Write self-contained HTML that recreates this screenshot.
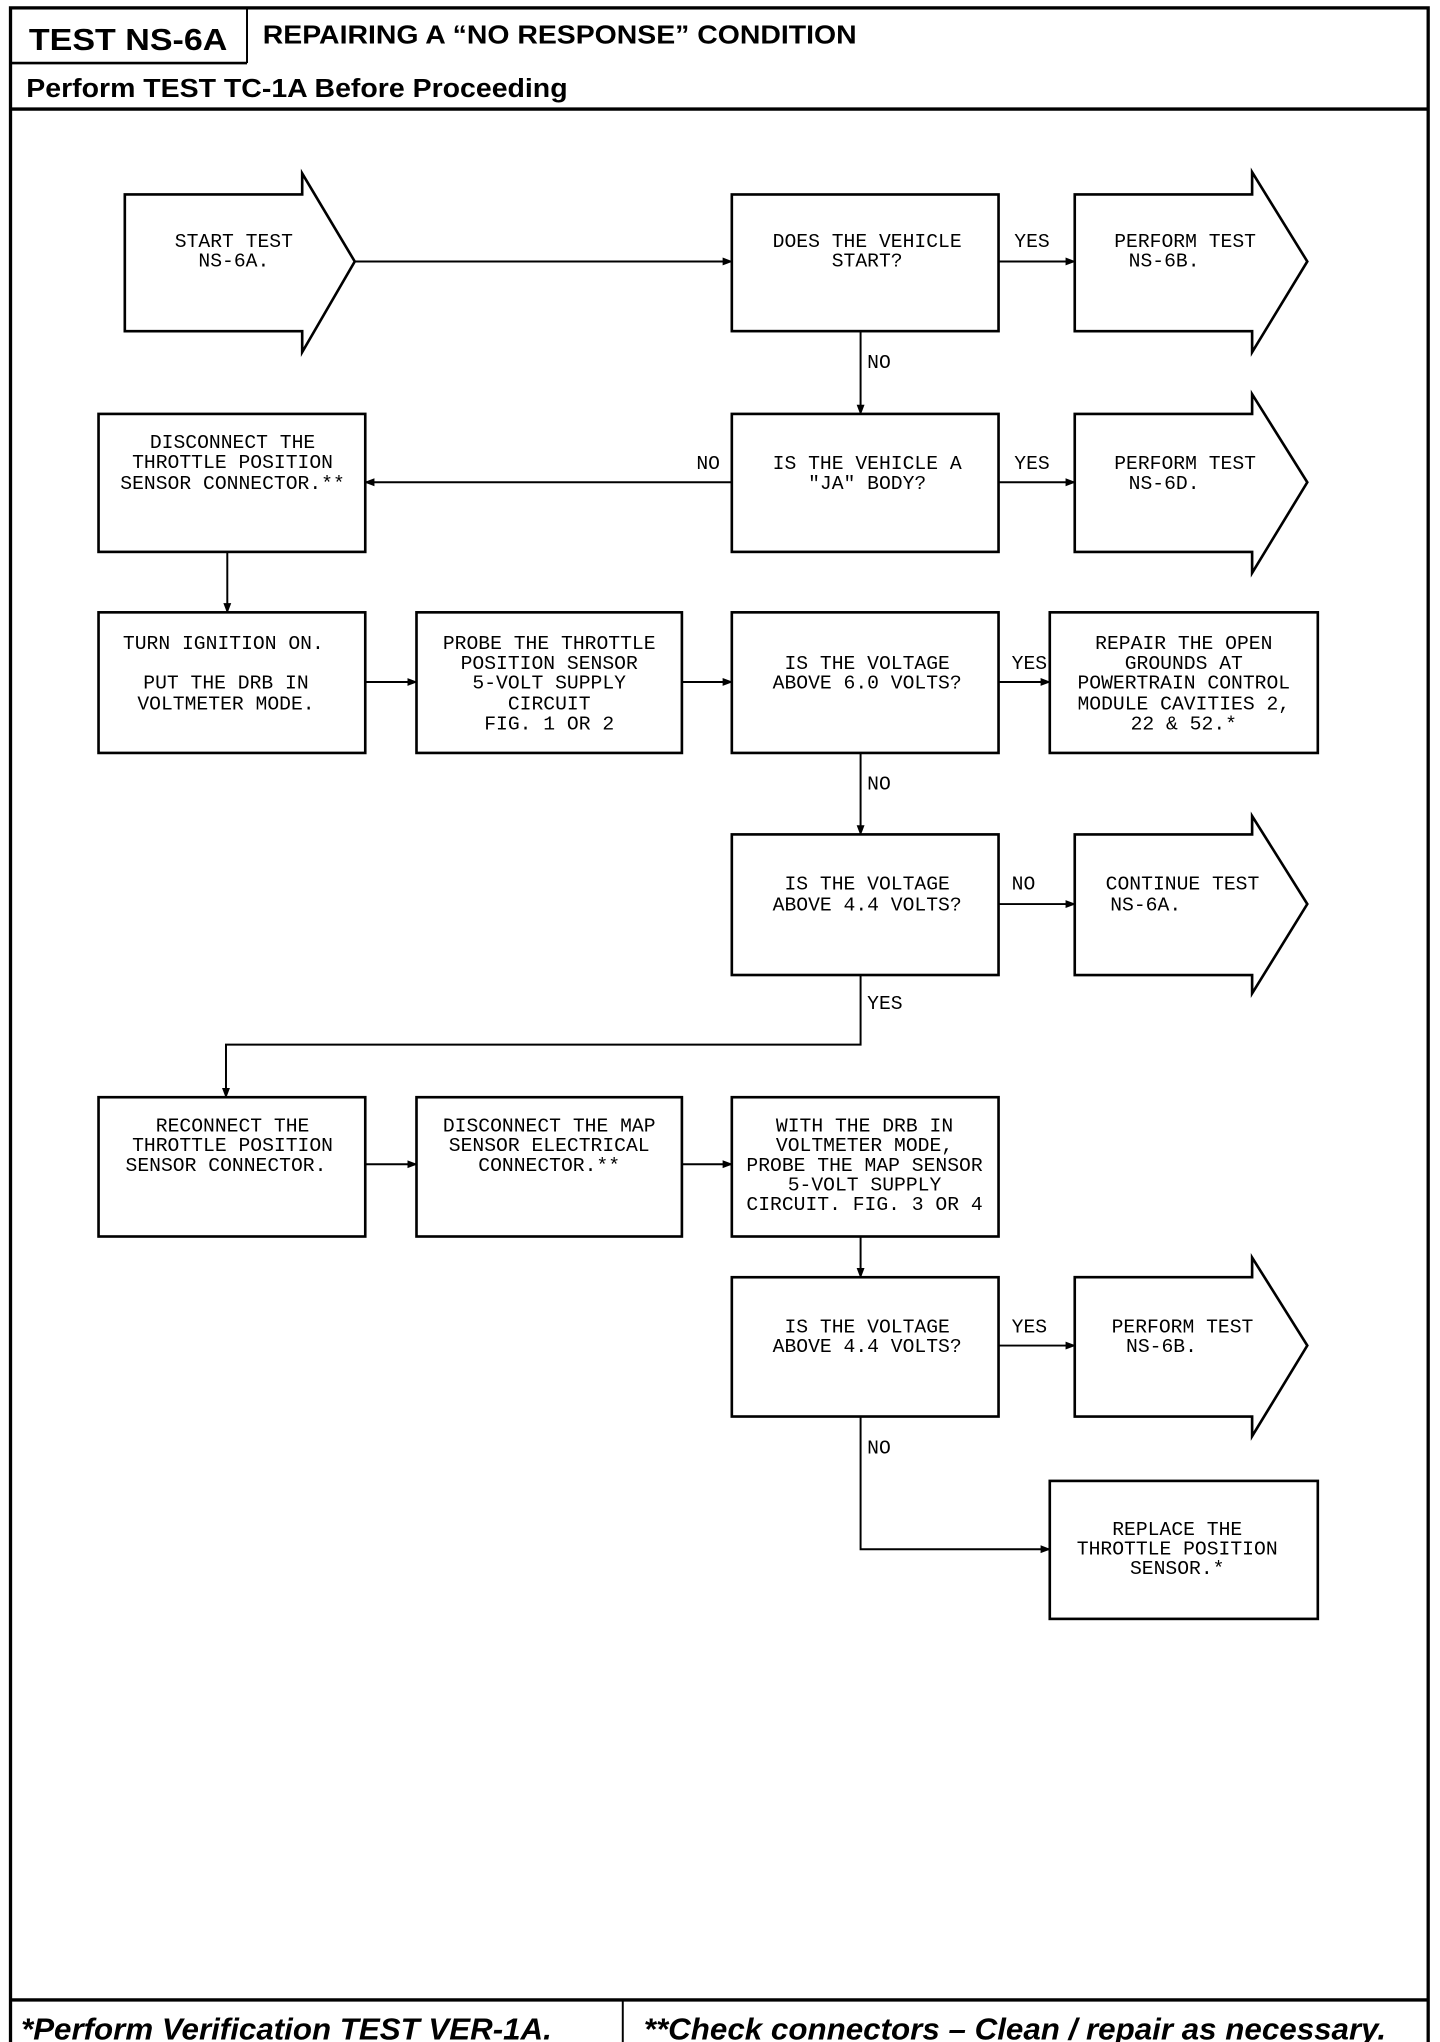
<!DOCTYPE html>
<html><head><meta charset="utf-8"><style>
html,body{margin:0;padding:0;background:#fff;}
svg{display:block;}
.t{font-family:"Liberation Mono",monospace;font-size:15px;fill:#000;text-anchor:middle;}
.l{font-family:"Liberation Mono",monospace;font-size:15px;fill:#000;}
.h{font-family:"Liberation Sans",sans-serif;font-weight:bold;fill:#000;}
</style></head><body>
<svg width="1440" height="2042" viewBox="0 0 1096 1554" preserveAspectRatio="none" xmlns="http://www.w3.org/2000/svg">
<defs><marker id="a" markerWidth="8" markerHeight="8" refX="7" refY="4" orient="auto" markerUnits="userSpaceOnUse"><path d="M0,1 L8,4 L0,7 Z" fill="#000"/></marker></defs>
<g fill="none" stroke="#000">
<rect x="8" y="6" width="1079" height="1556" stroke-width="2.5"/>
<line x1="8" y1="48" x2="188" y2="48" stroke-width="2"/>
<line x1="188" y1="6" x2="188" y2="48" stroke-width="1.5"/>
<line x1="8" y1="83" x2="1087" y2="83" stroke-width="2.5"/>
<line x1="8" y1="1522" x2="1087" y2="1522" stroke-width="2.5"/>
<line x1="474" y1="1522" x2="474" y2="1562" stroke-width="1.5"/>
</g>
<text class="h" x="22" y="38" font-size="23" textLength="151" lengthAdjust="spacingAndGlyphs">TEST NS-6A</text>
<text class="h" x="200" y="33" font-size="20" textLength="452" lengthAdjust="spacingAndGlyphs">REPAIRING A “NO RESPONSE” CONDITION</text>
<text class="h" x="20" y="74" font-size="20" textLength="412" lengthAdjust="spacingAndGlyphs">Perform TEST TC-1A Before Proceeding</text>
<text class="h" x="16" y="1552" font-size="23" font-style="italic" textLength="404" lengthAdjust="spacingAndGlyphs">*Perform Verification TEST VER-1A.</text>
<text class="h" x="490" y="1552" font-size="23" font-style="italic" textLength="565" lengthAdjust="spacingAndGlyphs">**Check connectors – Clean / repair as necessary.</text>

<g fill="#fff" stroke="#000" stroke-width="2">
<path d="M95,148 H230 V132 L270,199 L230,268 V252 H95 Z"/>
<path d="M818,148 H953 V131 L995,199 L953,268 V252 H818 Z"/>
<path d="M818,315 H953 V300 L995,367 L953,436 V420 H818 Z"/>
<path d="M818,635 H953 V621 L995,688 L953,756 V742 H818 Z"/>
<path d="M818,972 H953 V957 L995,1024 L953,1093 V1078 H818 Z"/>
<rect x="557" y="148" width="203" height="104"/>
<rect x="557" y="315" width="203" height="105"/>
<rect x="75" y="315" width="203" height="105"/>
<rect x="75" y="466" width="203" height="107"/>
<rect x="317" y="466" width="202" height="107"/>
<rect x="557" y="466" width="203" height="107"/>
<rect x="799" y="466" width="204" height="107"/>
<rect x="557" y="635" width="203" height="107"/>
<rect x="75" y="835" width="203" height="106"/>
<rect x="317" y="835" width="202" height="106"/>
<rect x="557" y="835" width="203" height="106"/>
<rect x="557" y="972" width="203" height="106"/>
<rect x="799" y="1127" width="204" height="105"/>
</g>
<g fill="none" stroke="#000" stroke-width="1.5" marker-end="url(#a)">
<line x1="270" y1="199" x2="557" y2="199"/>
<line x1="760" y1="199" x2="818" y2="199"/>
<line x1="655" y1="252" x2="655" y2="315"/>
<line x1="760" y1="367" x2="818" y2="367"/>
<line x1="557" y1="367" x2="278" y2="367"/>
<line x1="173" y1="420" x2="173" y2="466"/>
<line x1="278" y1="519" x2="317" y2="519"/>
<line x1="519" y1="519" x2="557" y2="519"/>
<line x1="760" y1="519" x2="799" y2="519"/>
<line x1="655" y1="573" x2="655" y2="635"/>
<line x1="760" y1="688" x2="818" y2="688"/>
<polyline points="655,742 655,795 172,795 172,835"/>
<line x1="278" y1="886" x2="317" y2="886"/>
<line x1="519" y1="886" x2="557" y2="886"/>
<line x1="655" y1="941" x2="655" y2="972"/>
<line x1="760" y1="1024" x2="818" y2="1024"/>
<polyline points="655,1078 655,1179 799,1179"/>
</g>
<g class="t">
<text x="178" y="188">START TEST</text><text x="178" y="203">NS-6A.</text>
<text x="660" y="188">DOES THE VEHICLE</text><text x="660" y="203">START?</text>
<text x="902" y="188">PERFORM TEST</text><text x="886" y="203">NS-6B.</text>
<text x="660" y="357">IS THE VEHICLE A</text><text x="660" y="372">"JA" BODY?</text>
<text x="902" y="357">PERFORM TEST</text><text x="886" y="372">NS-6D.</text>
<text x="177" y="341">DISCONNECT THE</text><text x="177" y="356">THROTTLE POSITION</text><text x="177" y="372">SENSOR CONNECTOR.**</text>
<text x="170" y="494">TURN IGNITION ON.</text><text x="172" y="524">PUT THE DRB IN</text><text x="172" y="540">VOLTMETER MODE.</text>
<text x="418" y="494">PROBE THE THROTTLE</text><text x="418" y="509">POSITION SENSOR</text><text x="418" y="524">5-VOLT SUPPLY</text><text x="418" y="540">CIRCUIT</text><text x="418" y="555">FIG. 1 OR 2</text>
<text x="660" y="509">IS THE VOLTAGE</text><text x="660" y="524">ABOVE 6.0 VOLTS?</text>
<text x="901" y="494">REPAIR THE OPEN</text><text x="901" y="509">GROUNDS AT</text><text x="901" y="524">POWERTRAIN CONTROL</text><text x="901" y="540">MODULE CAVITIES 2,</text><text x="901" y="555">22 &amp; 52.*</text>
<text x="660" y="677">IS THE VOLTAGE</text><text x="660" y="693">ABOVE 4.4 VOLTS?</text>
<text x="900" y="677">CONTINUE TEST</text><text x="872" y="693">NS-6A.</text>
<text x="177" y="861">RECONNECT THE</text><text x="177" y="876">THROTTLE POSITION</text><text x="172" y="891">SENSOR CONNECTOR.</text>
<text x="418" y="861">DISCONNECT THE MAP</text><text x="418" y="876">SENSOR ELECTRICAL</text><text x="418" y="891">CONNECTOR.**</text>
<text x="658" y="861">WITH THE DRB IN</text><text x="658" y="876">VOLTMETER MODE,</text><text x="658" y="891">PROBE THE MAP SENSOR</text><text x="658" y="906">5-VOLT SUPPLY</text><text x="658" y="921">CIRCUIT. FIG. 3 OR 4</text>
<text x="660" y="1014">IS THE VOLTAGE</text><text x="660" y="1029">ABOVE 4.4 VOLTS?</text>
<text x="900" y="1014">PERFORM TEST</text><text x="884" y="1029">NS-6B.</text>
<text x="896" y="1168">REPLACE THE</text><text x="896" y="1183">THROTTLE POSITION</text><text x="896" y="1198">SENSOR.*</text>
</g>
<g class="l">
<text x="772" y="188">YES</text><text x="772" y="357">YES</text><text x="770" y="509">YES</text><text x="770" y="677">NO</text><text x="770" y="1014">YES</text>
<text x="660" y="280">NO</text><text x="530" y="357">NO</text><text x="660" y="601">NO</text><text x="660" y="768">YES</text><text x="660" y="1106">NO</text>
</g>
</svg>
</body></html>
